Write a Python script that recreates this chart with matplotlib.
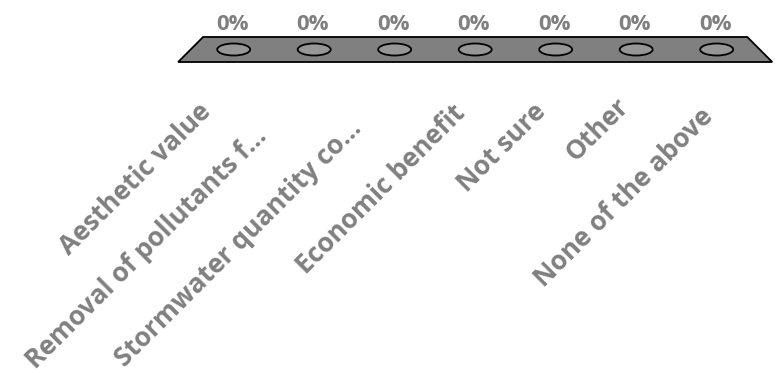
import matplotlib.pyplot as plt
from matplotlib.patches import Ellipse, Polygon, Rectangle

categories = ['Aesthetic value', 'Removal of pollutants f…', 'Stormwater quantity co…',
              'Economic benefit', 'Not sure', 'Other', 'None of the above']
percents = [0, 0, 0, 0, 0, 0, 0]

# per-label nudges in pixels, the source deck did not line them up evenly
label_dx = [-21, -46, -32, -9, -9, -6, -2]
label_dy = [-63, -88, -80, -65, -63, -58, -68]

GREY = '#808080'
plt.rcParams['font.family'] = ['Open Sans', 'DejaVu Sans']

fig = plt.figure(figsize=(7.81, 3.73), dpi=100)
ax = fig.add_axes([0, 0, 1, 1])
# x in category units, y in pixels above the floor centre line
ax.set_xlim(-2.903, 6.799)
ax.set_ylim(-323.5, 49.5)
ax.axis('off')

n = len(categories)
mid = (n - 1) / 2
front, back, depth = 3.69, 3.38, 12.5
floor = Polygon([(mid - front, -depth), (mid + front, -depth),
                 (mid + back, depth), (mid - back, depth)],
                closed=True, facecolor='#808080', edgecolor='black', lw=1.3, zorder=1)
ax.add_patch(floor)

bar_w = 0.41
bar_d = 12
scale = 2.0  # pixels per percent
for i, v in enumerate(percents):
    h = v * scale
    if h > 0:
        ax.add_patch(Rectangle((i - bar_w / 2, 0), bar_w, h, facecolor='#969696',
                               edgecolor='black', lw=1.2, zorder=2))
    ax.add_patch(Ellipse((i, h), bar_w, bar_d, facecolor='#969696',
                         edgecolor='black', lw=1.3, zorder=3))
    ax.annotate(f'{v}%', xy=(i, h), xytext=(-1.5, 19.5), textcoords='offset pixels',
                ha='center', va='baseline', fontsize=16, fontweight='bold', color=GREY)

for i, lab in enumerate(categories):
    ax.annotate(lab, xy=(i, 0), xytext=(label_dx[i], label_dy[i]), textcoords='offset pixels',
                rotation=45, rotation_mode='anchor', ha='right', va='baseline',
                fontsize=19, fontweight='bold', color=GREY)

fig.savefig('out.png', dpi=100)
